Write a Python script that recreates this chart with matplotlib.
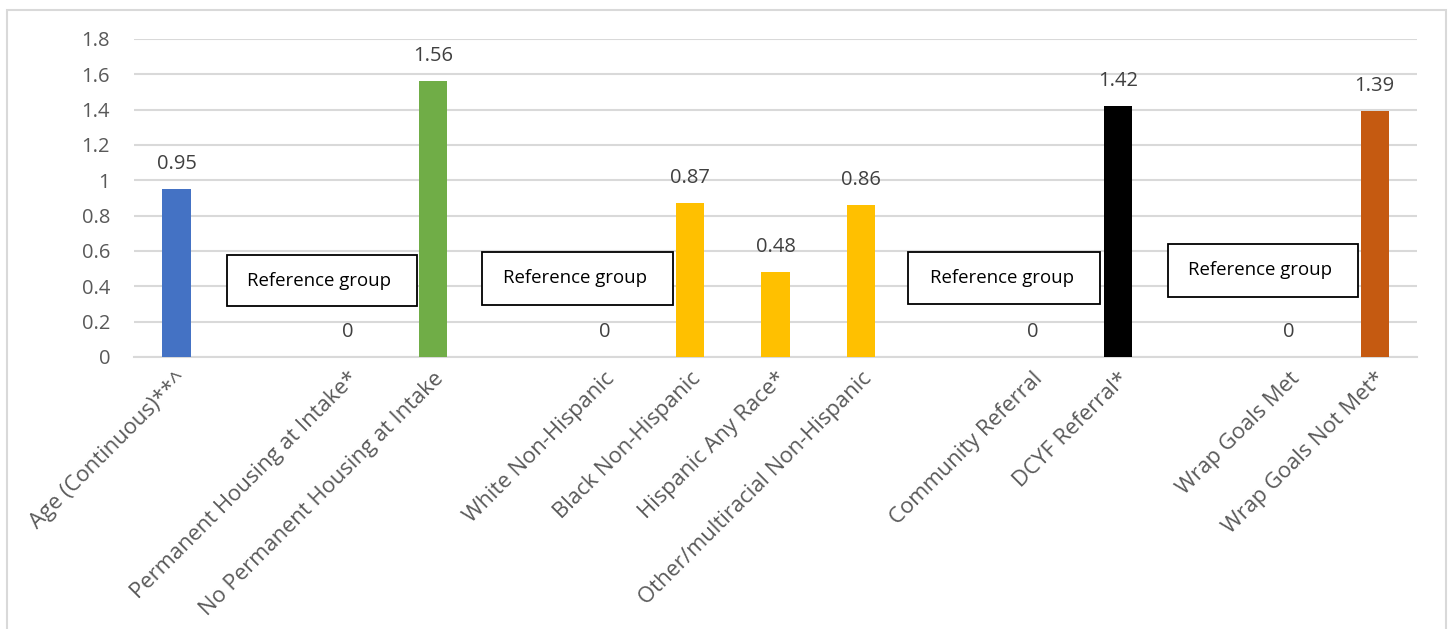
import matplotlib
matplotlib.use("Agg")
import matplotlib.pyplot as plt
from matplotlib.patches import Rectangle
import numpy as np

plt.rcParams['font.family'] = ['Open Sans', 'DejaVu Sans']

categories = ["Age (Continuous)**^", "", "Permanent Housing at Intake*",
              "No Permanent Housing at Intake", "", "White Non-Hispanic",
              "Black Non-Hispanic", "Hispanic Any Race*",
              "Other/multiracial Non-Hispanic", "", "Community Referral",
              "DCYF Referral*", "", "Wrap Goals Met", "Wrap Goals Not Met*"]
values = [0.95, np.nan, 0, 1.56, np.nan, 0, 0.87, 0.48, 0.86, np.nan, 0, 1.42,
          np.nan, 0, 1.39]
bar_colors = ["#4472C4", "none", "none", "#70AD47", "none", "none", "#FFC000",
              "#FFC000", "#FFC000", "none", "none", "#000000", "none", "none",
              "#C55A11"]
yticks = [0, 0.2, 0.4, 0.6, 0.8, 1, 1.2, 1.4, 1.6, 1.8]
ytick_labels = ["0", "0.2", "0.4", "0.6", "0.8", "1", "1.2", "1.4", "1.6", "1.8"]
ref_text = "Reference group"
# reference box extents (x0, x1, y0, y1) in data units
ref_boxes = [(0.59, 2.81, 0.289, 0.577), (3.57, 5.80, 0.295, 0.594),
             (8.55, 10.79, 0.30, 0.594), (11.58, 13.81, 0.341, 0.64)]

W, H = 1450, 629
fig = plt.figure(figsize=(W / 100, H / 100), dpi=100)
ax = fig.add_axes([133.7 / W, 1 - 357 / H, (1417.5 - 133.7) / W, (357 - 39) / H])

x = np.arange(len(categories))
vals = np.array(values, dtype=float)
ax.bar(x, np.nan_to_num(vals), width=0.33, color=bar_colors, zorder=3)

for xi, v in zip(x, vals):
    if np.isnan(v):
        continue
    ax.annotate(f"{v:g}", (xi, v), xytext=(0, 18), textcoords="offset points",
                ha="center", va="center", fontsize=14.5, color="#404040", zorder=4)

for (x0, x1, y0, y1) in ref_boxes:
    ax.add_patch(Rectangle((x0, y0), x1 - x0, y1 - y0, facecolor="white",
                           edgecolor="black", lw=1.3, zorder=5))
    ax.text((x0 + x1) / 2 - 0.03, (y0 + y1) / 2, ref_text, ha="center", va="center",
            fontsize=13.4, color="black", zorder=6)

ax.set_xlim(-0.5, len(categories) - 0.5)
ax.set_ylim(0, 1.8)
ax.set_yticks(yticks)
ax.set_yticklabels(ytick_labels)
ax.yaxis.grid(True, color="#d9d9d9", lw=1.5, zorder=0)
ax.set_axisbelow(True)
for s in ["top", "right", "left"]:
    ax.spines[s].set_visible(False)
ax.spines["bottom"].set_color("#d9d9d9")
ax.spines["bottom"].set_linewidth(1.5)
ax.tick_params(axis="y", length=0, pad=17, labelsize=14.5, labelcolor="#595959")
ax.tick_params(axis="x", length=0, pad=8, labelsize=15.8, labelcolor="#595959")
ax.set_xticks(x)
ax.set_xticklabels(categories, rotation=45, ha="right", rotation_mode="anchor")

fig.add_artist(Rectangle((7 / W, -0.1), (1446 - 7) / W, 1.1 - 10 / H,
                         transform=fig.transFigure, fill=False,
                         edgecolor="#d9d9d9", lw=1.5))

fig.savefig("out.png", dpi=100, facecolor="white")
